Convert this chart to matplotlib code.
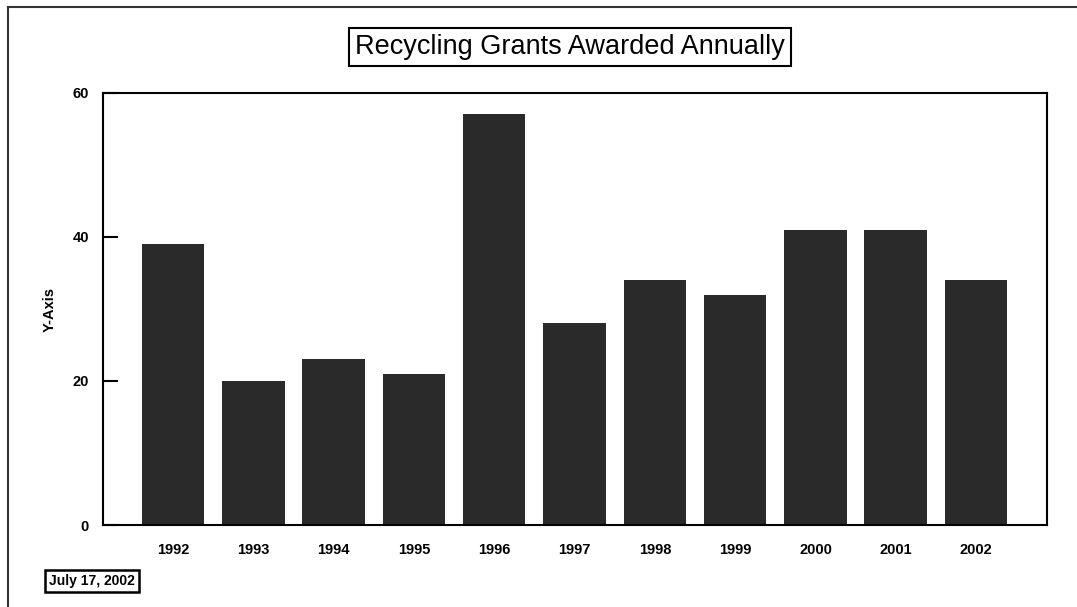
import matplotlib
matplotlib.use('Agg')
import matplotlib.pyplot as plt
from matplotlib.lines import Line2D

years = ['1992', '1993', '1994', '1995', '1996', '1997',
         '1998', '1999', '2000', '2001', '2002']
grants = [39, 20, 23, 21, 57, 28, 34, 32, 41, 41, 34]
y_ticks = [0, 20, 40, 60]

plt.rcParams['font.family'] = ['Liberation Sans', 'DejaVu Sans']

fig = plt.figure(figsize=(10.77, 6.07), dpi=100)
ax = fig.add_axes([0.0956, 0.135, 0.8764, 0.712])

x = list(range(len(years)))
ax.bar(x, grants, width=0.78, color='#2a2a2a')

ax.set_xlim(-0.87, 10.88)
ax.set_ylim(0, 60)
ax.set_xticks(x)
ax.set_xticklabels(years, fontsize=10.5, fontweight='bold')
ax.tick_params(axis='x', length=0, pad=13)
ax.set_yticks(y_ticks)
ax.set_yticklabels([str(t) for t in y_ticks], fontsize=10.5, fontweight='bold')
ax.tick_params(axis='y', direction='in', length=11, width=1.5, pad=10)
for s in ax.spines.values():
    s.set_linewidth(1.5)

# y axis label sits out to the left
fig.text(50 / 1077, 1 - 310 / 607, 'Y-Axis', rotation=90, fontsize=10.5,
         fontweight='bold', ha='center', va='center')

# boxed title
fig.text(570 / 1077, 1 - 47 / 607, 'Recycling Grants Awarded Annually',
         fontsize=19.5, ha='center', va='center',
         bbox=dict(boxstyle='square,pad=0.22', facecolor='white',
                   edgecolor='black', linewidth=1.5))

# date stamp
fig.text(92 / 1077, 1 - 581 / 607, 'July 17, 2002', fontsize=10,
         fontweight='bold', ha='center', va='center',
         bbox=dict(boxstyle='square,pad=0.3', facecolor='white',
                   edgecolor='black', linewidth=1.8))

# page frame lines from the scan
fig.add_artist(Line2D([8 / 1077, 1.0], [1 - 7 / 607, 1 - 7 / 607],
                      color='#333333', linewidth=1.5))
fig.add_artist(Line2D([8 / 1077, 8 / 1077], [0, 1 - 7 / 607],
                      color='#333333', linewidth=1.5))

fig.savefig('out.png', dpi=100)
